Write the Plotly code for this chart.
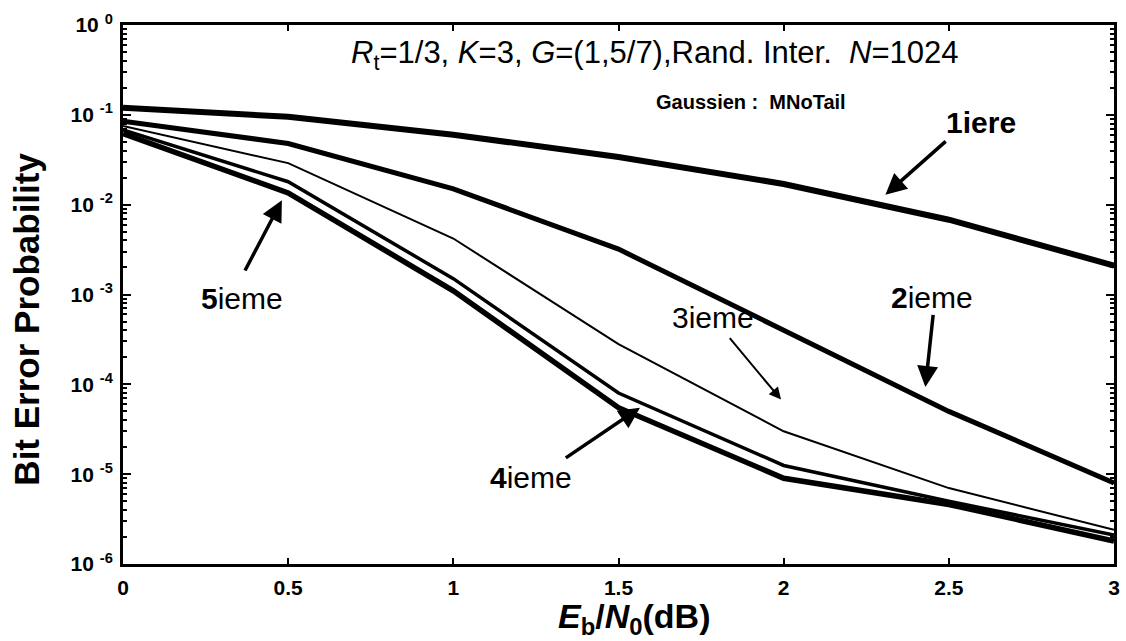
import numpy as np
import plotly.graph_objects as go

ebn0 = [0, 0.5, 1, 1.5, 2, 2.5, 3]
iter1 = [0.12, 0.095, 0.06, 0.034, 0.017, 0.0068, 0.0021]
iter2 = [0.085, 0.048, 0.015, 0.0032, 0.0004, 0.00005, 0.000008]
iter3 = [0.075, 0.029, 0.0042, 0.00028, 0.00003, 0.000007, 0.0000024]
iter4 = [0.068, 0.018, 0.0015, 0.00008, 0.0000125, 0.000005, 0.0000021]
iter5 = [0.062, 0.0135, 0.0011, 0.000055, 0.000009, 0.0000046, 0.0000018]

series = [(iter1, 6), (iter2, 5), (iter3, 2), (iter4, 3.5), (iter5, 5.5)]

fig = go.Figure()
for ys, w in series:
    fig.add_trace(go.Scatter(x=ebn0, y=ys, mode="lines",
                             line=dict(color="black", width=w), showlegend=False))

font = "Liberation Sans, Arial, sans-serif"
ytickvals = [1e-6, 1e-5, 1e-4, 1e-3, 1e-2, 1e-1, 1]
yticktext = ["10 <sup>-6</sup>", "10 <sup>-5</sup>", "10 <sup>-4</sup>", "10 <sup>-3</sup>",
             "10 <sup>-2</sup>", "10 <sup>-1</sup>", "10 <sup>0</sup>"]
minor_vals = [k * 10.0 ** e for e in range(-6, 0) for k in range(2, 10)]

fig.update_xaxes(range=[0, 3], tickvals=ebn0, ticktext=["0", "0.5", "1", "1.5", "2", "2.5", "3"],
                 ticks="inside", ticklen=6, tickwidth=2, tickcolor="black",
                 showline=True, linewidth=3, linecolor="black", mirror="ticks",
                 showgrid=False, zeroline=False, ticklabelstandoff=3,
                 tickfont=dict(family=font, size=21, color="black", weight="bold"))
fig.update_yaxes(type="log", range=[-6, 0], tickvals=ytickvals, ticktext=yticktext,
                 ticks="inside", ticklen=8, tickwidth=2, tickcolor="black",
                 minor=dict(tickvals=minor_vals, ticks="inside", ticklen=4, tickwidth=1.5,
                            tickcolor="black", showgrid=False),
                 showline=True, linewidth=3, linecolor="black", mirror="ticks",
                 showgrid=False, zeroline=False, ticklabelstandoff=3,
                 tickfont=dict(family=font, size=21, color="black", weight="bold"))

ann = []
# axis titles
ann.append(dict(x=0.516, y=-0.102, xref="paper", yref="paper", showarrow=False,
                xanchor="center", yanchor="middle",
                text="<i>E</i><sub>b</sub>/<i>N</i><sub>0</sub>(dB)",
                font=dict(family=font, size=34, color="black", weight="bold")))
ann.append(dict(x=-0.097, y=0.455, xref="paper", yref="paper", showarrow=False,
                xanchor="center", yanchor="middle", textangle=-90,
                text="Bit Error Probability",
                font=dict(family=font, size=35, color="black", weight="bold")))

ann.append(dict(x=1.61, y=-0.33, xref="x", yref="y", showarrow=False,
                text="<i>R</i><sub>t</sub>=1/3, <i>K</i>=3, <i>G</i>=(1,5/7),Rand. Inter.  <i>N</i>=1024",
                font=dict(family=font, size=31, color="black")))
ann.append(dict(x=1.9, y=-0.857, xref="x", yref="y", showarrow=False,
                text="Gaussien :  MNoTail",
                font=dict(family=font, size=20, color="black", weight="bold")))

labels = [("<b>1iere</b>", 2.597, -1.09), ("<b>2</b>ieme", 2.45, -3.03),
          ("3ieme", 1.785, -3.26), ("<b>4</b>ieme", 1.234, -5.04), ("<b>5</b>ieme", 0.361, -3.04)]
for t, x, y in labels:
    ann.append(dict(x=x, y=y, xref="x", yref="y", showarrow=False, text=t,
                    font=dict(family=font, size=30, color="black")))

arrows = [((2.495, -1.28), (2.308, -1.89), 3.5),
          ((2.453, -3.21), (2.429, -4.03), 3.5),
          ((1.833, -3.47), (1.992, -4.17), 2),
          ((1.336, -4.83), (1.565, -4.26), 3.5),
          ((0.367, -2.75), (0.481, -1.95), 3.5)]
for (tx, ty), (hx, hy), w in arrows:
    ann.append(dict(x=hx, y=hy, ax=tx, ay=ty, xref="x", yref="y", axref="x", ayref="y",
                    text="", showarrow=True, arrowhead=2, arrowsize=1.2, arrowwidth=w,
                    arrowcolor="black"))

fig.update_layout(width=1126, height=641, paper_bgcolor="white", plot_bgcolor="white",
                  margin=dict(l=123, r=6, t=25, b=77), annotations=ann)

fig.write_html("out.html")
